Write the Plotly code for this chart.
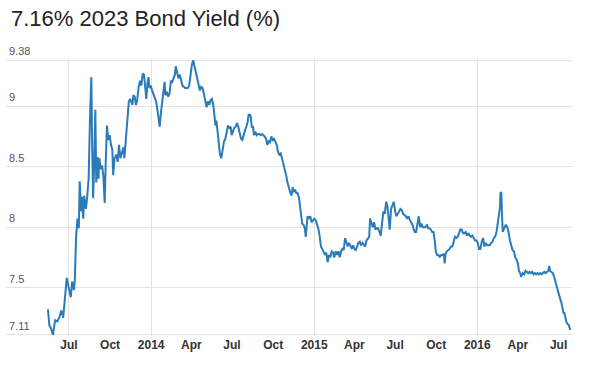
import plotly.graph_objects as go

TITLE = "7.16% 2023 Bond Yield (%)"

# ---- data (date, yield %) ----
dates_2013 = ["2013-05-15", "2013-05-18", "2013-05-22", "2013-05-26", "2013-05-31", "2013-06-05", "2013-06-10",
              "2013-06-14", "2013-06-18", "2013-06-22", "2013-06-26", "2013-07-01", "2013-07-05", "2013-07-08",
              "2013-07-12", "2013-07-14", "2013-07-17", "2013-07-20", "2013-07-23", "2013-07-25", "2013-07-28",
              "2013-07-30", "2013-08-02", "2013-08-04", "2013-08-08", "2013-08-11", "2013-08-14", "2013-08-17",
              "2013-08-20", "2013-08-22", "2013-08-24", "2013-08-26", "2013-08-29", "2013-08-31", "2013-09-03",
              "2013-09-05", "2013-09-07", "2013-09-10", "2013-09-13", "2013-09-16", "2013-09-19", "2013-09-21",
              "2013-09-24", "2013-09-27", "2013-09-30", "2013-10-03", "2013-10-06", "2013-10-08", "2013-10-11",
              "2013-10-15", "2013-10-18", "2013-10-21", "2013-10-24", "2013-10-28", "2013-10-31", "2013-11-02",
              "2013-11-06", "2013-11-09", "2013-11-12", "2013-11-15", "2013-11-17", "2013-11-20", "2013-11-22",
              "2013-11-25", "2013-11-28", "2013-12-01", "2013-12-04", "2013-12-07", "2013-12-10", "2013-12-13",
              "2013-12-16", "2013-12-19", "2013-12-21", "2013-12-24", "2013-12-26", "2013-12-28", "2013-12-31"]
yield_2013 = [7.32, 7.19, 7.16, 7.11, 7.23, 7.22, 7.26,
              7.31, 7.25, 7.44, 7.58, 7.49, 7.42, 7.55,
              7.48, 7.56, 7.93, 8.07, 7.99, 8.38, 8.13,
              8.25, 8.07, 8.26, 8.15, 8.26, 8.40, 8.90,
              9.24, 8.65, 8.24, 8.46, 8.97, 8.37, 8.58,
              8.40, 8.57, 8.48, 8.51, 8.42, 8.20, 8.51,
              8.84, 8.72, 8.76, 8.68, 8.64, 8.43, 8.57,
              8.60, 8.54, 8.68, 8.57, 8.62, 8.66, 8.57,
              8.76, 8.93, 9.04, 9.06, 9.04, 9.01, 9.09,
              9.08, 9.01, 9.06, 9.16, 9.21, 9.17, 9.27,
              9.26, 9.15, 9.06, 9.20, 9.24, 9.15, 9.17]

dates_2014 = ["2014-01-03", "2014-01-06", "2014-01-09", "2014-01-12", "2014-01-15", "2014-01-18", "2014-01-20",
              "2014-01-23", "2014-01-26", "2014-01-29", "2014-01-31", "2014-02-02", "2014-02-05", "2014-02-08",
              "2014-02-11", "2014-02-14", "2014-02-17", "2014-02-20", "2014-02-23", "2014-02-25", "2014-02-28",
              "2014-03-03", "2014-03-06", "2014-03-09", "2014-03-12", "2014-03-15", "2014-03-18", "2014-03-21",
              "2014-03-24", "2014-03-27", "2014-03-30", "2014-04-02", "2014-04-05", "2014-04-08", "2014-04-11",
              "2014-04-14", "2014-04-17", "2014-04-20", "2014-04-23", "2014-04-26", "2014-04-29", "2014-05-02",
              "2014-05-05", "2014-05-08", "2014-05-11", "2014-05-14", "2014-05-17", "2014-05-20", "2014-05-23",
              "2014-05-25", "2014-05-27", "2014-05-30", "2014-06-01", "2014-06-04", "2014-06-07", "2014-06-10",
              "2014-06-13", "2014-06-16", "2014-06-19", "2014-06-22", "2014-06-25", "2014-06-28", "2014-06-30",
              "2014-07-03", "2014-07-06", "2014-07-09", "2014-07-12", "2014-07-15", "2014-07-18", "2014-07-21",
              "2014-07-24", "2014-07-27", "2014-07-30", "2014-08-02", "2014-08-05", "2014-08-07", "2014-08-10",
              "2014-08-12", "2014-08-14", "2014-08-17", "2014-08-19", "2014-08-22", "2014-08-25", "2014-08-28",
              "2014-08-31", "2014-09-03", "2014-09-06", "2014-09-09", "2014-09-12", "2014-09-15", "2014-09-18",
              "2014-09-21", "2014-09-24", "2014-09-27", "2014-09-30", "2014-10-03", "2014-10-06", "2014-10-09",
              "2014-10-12", "2014-10-15", "2014-10-18", "2014-10-21", "2014-10-24", "2014-10-27", "2014-10-30",
              "2014-11-02", "2014-11-05", "2014-11-08", "2014-11-11", "2014-11-14", "2014-11-16", "2014-11-19",
              "2014-11-22", "2014-11-25", "2014-11-28", "2014-12-01", "2014-12-02", "2014-12-05", "2014-12-08",
              "2014-12-11", "2014-12-13", "2014-12-15", "2014-12-17", "2014-12-20", "2014-12-23", "2014-12-26",
              "2014-12-29"]
yield_2014 = [9.13, 9.10, 9.06, 9.04, 8.97, 8.90, 8.83,
              8.95, 9.06, 9.15, 9.20, 9.09, 9.12, 9.08,
              9.10, 9.21, 9.20, 9.23, 9.26, 9.33, 9.28,
              9.23, 9.26, 9.20, 9.17, 9.16, 9.15, 9.15,
              9.15, 9.17, 9.26, 9.34, 9.38, 9.33, 9.27,
              9.23, 9.17, 9.13, 9.16, 9.15, 9.10, 9.04,
              8.99, 9.04, 9.01, 9.05, 9.06, 9.01, 8.86,
              8.84, 8.88, 8.79, 8.72, 8.60, 8.57, 8.64,
              8.71, 8.73, 8.79, 8.84, 8.82, 8.83, 8.76,
              8.79, 8.82, 8.83, 8.86, 8.83, 8.79, 8.73,
              8.72, 8.77, 8.80, 8.83, 8.87, 8.93, 8.93,
              8.91, 8.83, 8.83, 8.76, 8.79, 8.76, 8.77,
              8.77, 8.76, 8.77, 8.76, 8.75, 8.73, 8.68,
              8.71, 8.70, 8.75, 8.72, 8.73, 8.70, 8.68,
              8.62, 8.60, 8.61, 8.57, 8.53, 8.48, 8.43,
              8.37, 8.32, 8.29, 8.26, 8.33, 8.29, 8.31,
              8.28, 8.28, 8.24, 8.15, 8.07, 8.03, 8.02,
              7.99, 7.92, 8.02, 8.09, 8.07, 8.09, 8.04,
              8.06]

dates_2015 = ["2015-01-01", "2015-01-04", "2015-01-07", "2015-01-10", "2015-01-13", "2015-01-16", "2015-01-19",
              "2015-01-22", "2015-01-25", "2015-01-28", "2015-01-31", "2015-02-03", "2015-02-06", "2015-02-09",
              "2015-02-12", "2015-02-15", "2015-02-18", "2015-02-21", "2015-02-24", "2015-02-27", "2015-03-02",
              "2015-03-05", "2015-03-08", "2015-03-11", "2015-03-14", "2015-03-17", "2015-03-20", "2015-03-23",
              "2015-03-26", "2015-03-29", "2015-04-01", "2015-04-04", "2015-04-07", "2015-04-10", "2015-04-13",
              "2015-04-16", "2015-04-19", "2015-04-22", "2015-04-25", "2015-04-28", "2015-05-01", "2015-05-04",
              "2015-05-06", "2015-05-09", "2015-05-12", "2015-05-15", "2015-05-18", "2015-05-21", "2015-05-24",
              "2015-05-27", "2015-05-30", "2015-06-02", "2015-06-05", "2015-06-08", "2015-06-11", "2015-06-14",
              "2015-06-17", "2015-06-19", "2015-06-22", "2015-06-25", "2015-06-28", "2015-07-01", "2015-07-04",
              "2015-07-07", "2015-07-10", "2015-07-13", "2015-07-16", "2015-07-19", "2015-07-22", "2015-07-25",
              "2015-07-28", "2015-07-31", "2015-08-03", "2015-08-06", "2015-08-09", "2015-08-11", "2015-08-14",
              "2015-08-17", "2015-08-20", "2015-08-23", "2015-08-26", "2015-08-29", "2015-09-01", "2015-09-04",
              "2015-09-07", "2015-09-10", "2015-09-13", "2015-09-16", "2015-09-19", "2015-09-22", "2015-09-25",
              "2015-09-28", "2015-09-30", "2015-10-03", "2015-10-06", "2015-10-09", "2015-10-12", "2015-10-15",
              "2015-10-18", "2015-10-20", "2015-10-22", "2015-10-25", "2015-10-28", "2015-10-31", "2015-11-03",
              "2015-11-06", "2015-11-09", "2015-11-12", "2015-11-15", "2015-11-18", "2015-11-21", "2015-11-24",
              "2015-11-27", "2015-11-30", "2015-12-03", "2015-12-06", "2015-12-09", "2015-12-12", "2015-12-15",
              "2015-12-18", "2015-12-21", "2015-12-24", "2015-12-27", "2015-12-30"]
yield_2015 = [8.07, 8.06, 8.03, 7.99, 7.93, 7.84, 7.82,
              7.80, 7.77, 7.79, 7.71, 7.77, 7.75, 7.80,
              7.79, 7.75, 7.80, 7.77, 7.80, 7.75, 7.80,
              7.82, 7.81, 7.91, 7.87, 7.84, 7.87, 7.85,
              7.82, 7.85, 7.82, 7.81, 7.85, 7.87, 7.88,
              7.85, 7.87, 7.85, 7.84, 7.89, 7.91, 7.92,
              8.07, 8.04, 8.00, 8.04, 7.98, 7.99, 7.99,
              7.96, 7.93, 8.04, 8.13, 8.11, 8.21, 8.17,
              8.07, 7.98, 8.15, 8.18, 8.21, 8.13, 8.09,
              8.11, 8.13, 8.15, 8.14, 8.11, 8.10, 8.09,
              8.07, 8.09, 8.06, 8.04, 8.02, 7.99, 7.96,
              7.96, 8.02, 8.09, 8.00, 8.03, 8.00, 8.00,
              8.00, 8.02, 7.99, 7.99, 7.98, 7.96, 7.96,
              7.88, 7.80, 7.77, 7.77, 7.75, 7.77, 7.77,
              7.78, 7.70, 7.78, 7.80, 7.81, 7.82, 7.84,
              7.84, 7.88, 7.92, 7.91, 7.92, 7.95, 7.98,
              7.98, 7.95, 7.95, 7.96, 7.93, 7.95, 7.93,
              7.92, 7.93, 7.91, 7.89, 7.89]

dates_2016 = ["2016-01-02", "2016-01-05", "2016-01-08", "2016-01-11", "2016-01-14", "2016-01-17", "2016-01-20",
              "2016-01-23", "2016-01-26", "2016-01-29", "2016-02-01", "2016-02-04", "2016-02-07", "2016-02-10",
              "2016-02-13", "2016-02-16", "2016-02-18", "2016-02-21", "2016-02-22", "2016-02-24", "2016-02-25",
              "2016-02-27", "2016-02-29", "2016-03-02", "2016-03-05", "2016-03-08", "2016-03-11", "2016-03-14",
              "2016-03-17", "2016-03-20", "2016-03-23", "2016-03-26", "2016-03-29", "2016-04-01", "2016-04-03",
              "2016-04-06", "2016-04-08", "2016-04-10", "2016-04-12", "2016-04-15", "2016-04-18", "2016-04-21",
              "2016-04-24", "2016-04-27", "2016-04-30", "2016-05-03", "2016-05-06", "2016-05-09", "2016-05-12",
              "2016-05-15", "2016-05-18", "2016-05-21", "2016-05-24", "2016-05-27", "2016-05-30", "2016-06-02",
              "2016-06-05", "2016-06-08", "2016-06-10", "2016-06-12", "2016-06-15", "2016-06-18", "2016-06-21",
              "2016-06-24", "2016-06-27", "2016-06-30", "2016-07-03", "2016-07-05", "2016-07-07", "2016-07-09",
              "2016-07-12", "2016-07-14", "2016-07-16", "2016-07-18", "2016-07-21", "2016-07-24", "2016-07-27"]
yield_2016 = [7.87, 7.82, 7.82, 7.88, 7.91, 7.84, 7.87,
              7.85, 7.85, 7.85, 7.87, 7.88, 7.91, 7.92,
              7.96, 8.04, 8.10, 8.17, 8.29, 8.28, 8.13,
              7.96, 7.98, 8.00, 8.02, 8.00, 7.96, 7.89,
              7.84, 7.81, 7.80, 7.75, 7.73, 7.70, 7.64,
              7.62, 7.59, 7.61, 7.62, 7.61, 7.64, 7.63,
              7.62, 7.63, 7.62, 7.63, 7.61, 7.62, 7.61,
              7.62, 7.61, 7.62, 7.61, 7.62, 7.63, 7.62,
              7.63, 7.64, 7.68, 7.64, 7.63, 7.62, 7.59,
              7.55, 7.51, 7.47, 7.41, 7.40, 7.38, 7.33,
              7.29, 7.29, 7.25, 7.22, 7.20, 7.19, 7.15]

# axis ticks
x_tick_dates = ["2013-07-01", "2013-10-01", "2014-01-01", "2014-04-01", "2014-07-01", "2014-10-01",
                "2015-01-01", "2015-04-01", "2015-07-01", "2015-10-01", "2016-01-01", "2016-04-01",
                "2016-07-01"]
x_tick_text = ["Jul", "Oct", "2014", "Apr", "Jul", "Oct", "2015", "Apr", "Jul", "Oct", "2016", "Apr", "Jul"]
x_grid_dates = ["2013-07-01", "2014-01-01", "2015-01-01", "2016-01-01"]
x_range = ["2013-02-10", "2016-07-31"]
y_tick_vals = [7.11, 7.5, 8, 8.5, 9, 9.38]
y_tick_text = ["7.11", "7.5", "8", "8.5", "9", "9.38"]
y_range = [7.10, 9.39]

dates = dates_2013 + dates_2014 + dates_2015 + dates_2016
yields = yield_2013 + yield_2014 + yield_2015 + yield_2016

FONT = "Arial, 'Liberation Sans', sans-serif"
LINE = "#2b7bb9"
GRID = "#e3e3e3"

fig = go.Figure()
fig.add_trace(go.Scatter(x=dates, y=yields, mode="lines",
                         line=dict(color=LINE, width=2), hoverinfo="skip", showlegend=False))
# invisible trace on a secondary x axis, used only to draw the vertical grid lines
fig.add_trace(go.Scatter(x=[dates[0]], y=[yields[0]], xaxis="x2", mode="lines",
                         line=dict(width=0), hoverinfo="skip", showlegend=False))

# y tick labels sit just above their grid lines, inside the plot
annotations = [
    dict(text=t, x=0, xref="paper", y=v, yref="y", xanchor="left", yanchor="bottom",
         xshift=1, yshift=1, showarrow=False, font=dict(size=11, color="#555555", family=FONT))
    for v, t in zip(y_tick_vals, y_tick_text)
]

fig.update_layout(
    width=596, height=380,
    margin=dict(l=6, r=24, t=59, b=44, autoexpand=False),
    paper_bgcolor="white", plot_bgcolor="white",
    font=dict(family=FONT, color="#333333"),
    title=dict(text=TITLE, x=11 / 596, xanchor="left", xref="container",
               y=1 - 18 / 380, yanchor="middle", yref="container",
               font=dict(size=22, color="#222222", family=FONT)),
    xaxis=dict(type="date", range=x_range, tickvals=x_tick_dates, ticktext=x_tick_text,
               showgrid=False, zeroline=False, showline=False, ticks="", automargin=False,
               tickfont=dict(size=12, color="#333333", family=FONT, weight="bold")),
    xaxis2=dict(type="date", range=x_range, overlaying="x", matches="x", tickvals=x_grid_dates,
                showticklabels=False, showgrid=True, gridcolor=GRID, gridwidth=1,
                zeroline=False, showline=False, ticks="", automargin=False),
    yaxis=dict(range=y_range, tickvals=y_tick_vals, showticklabels=False,
               showgrid=True, gridcolor=GRID, gridwidth=1, zeroline=False, showline=False,
               ticks="", automargin=False),
    annotations=annotations,
)

fig.write_html("out.html", config={"displayModeBar": False},
               post_script="document.body.style.margin='0px';")
